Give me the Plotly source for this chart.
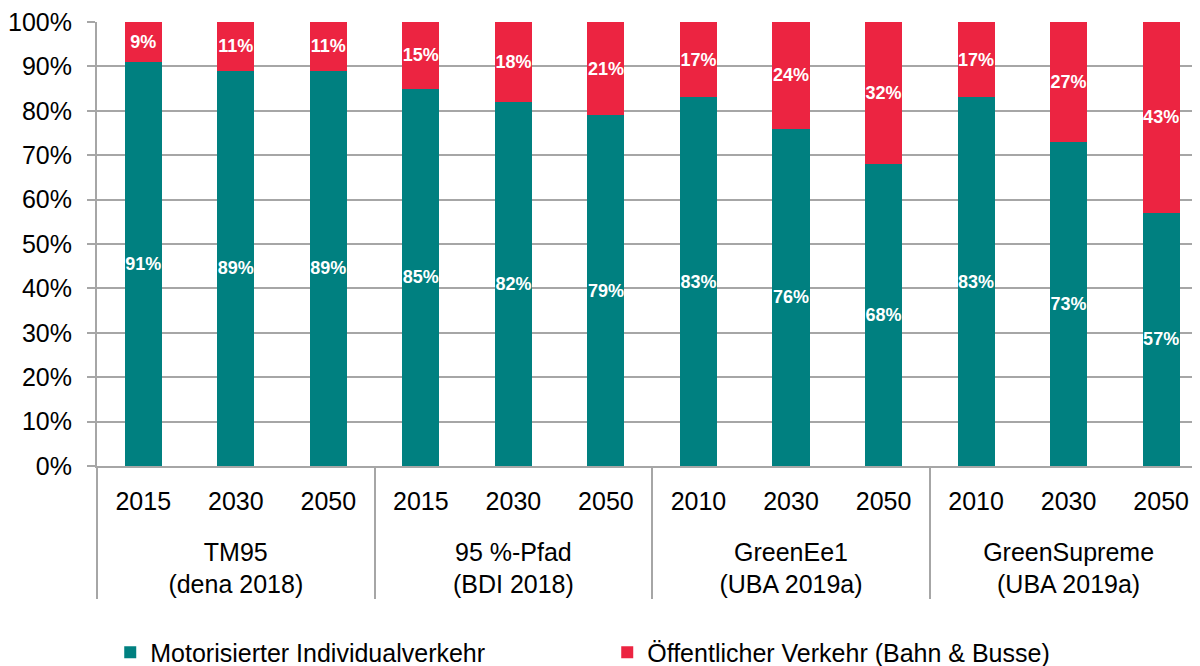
import plotly.graph_objects as go

# Scenario groups (outer level) and years (inner level)
# leading <br> gives the gap between year row and scenario names
groups = ["<br>TM95<br>(dena 2018)", "<br>95 %-Pfad<br>(BDI 2018)",
          "<br>GreenEe1<br>(UBA 2019a)", "<br>GreenSupreme<br>(UBA 2019a)"]
scenarios = [g for g in groups for _ in range(3)]
years = ["2015", "2030", "2050", "2015", "2030", "2050",
         "2010", "2030", "2050", "2010", "2030", "2050"]

# Shares in percent
miv = [91, 89, 89, 85, 82, 79, 83, 76, 68, 83, 73, 57]
oev = [9, 11, 11, 15, 18, 21, 17, 24, 32, 17, 27, 43]

TEAL = "#008080"
RED = "#EC2441"
GRID = "#A6A6A6"
FONT = "Liberation Sans, Arial, sans-serif"

fig = go.Figure()

# invisible helper so plotly sees the first year of every group in order
# (otherwise "2010" is sorted after "2050" inside the UBA groups)
fig.add_trace(go.Scatter(
    x=[groups, [years[0], years[3], years[6], years[9]]],
    y=[None] * 4, mode="markers", showlegend=False, hoverinfo="skip",
))

label_font = dict(color="white", size=18, family=FONT, weight="bold")
fig.add_trace(go.Bar(
    x=[scenarios, years], y=miv, name="Motorisierter Individualverkehr",
    marker=dict(color=TEAL, line_width=0),
    text=[f"{v}%" for v in miv], textposition="inside", insidetextanchor="middle",
    textfont=label_font, textangle=0, constraintext="none",
))
fig.add_trace(go.Bar(
    x=[scenarios, years], y=oev, name="Öffentlicher Verkehr (Bahn & Busse)",
    marker=dict(color=RED, line_width=0),
    text=[f"{v}%" for v in oev], textposition="inside", insidetextanchor="middle",
    textfont=label_font, textangle=0, constraintext="none",
))

# page body has an 8px margin, so the figure is 8px smaller than the window
fig.update_layout(
    barmode="stack",
    bargap=0.6,
    width=1192, height=658,
    margin=dict(l=89, r=0, t=14, b=200, autoexpand=False),
    plot_bgcolor="white", paper_bgcolor="white",
    font=dict(family=FONT, size=25, color="black"),
    legend=dict(
        orientation="h", traceorder="normal",
        x=0.012, xanchor="left", y=-0.42, yanchor="middle",
        font=dict(size=25), entrywidth=452, entrywidthmode="pixels",
        itemwidth=30,
    ),
    xaxis=dict(
        # last category runs slightly past the right edge, as in the original
        type="multicategory", automargin=False, range=[-0.5, 11.42],
        showline=True, linecolor=GRID, linewidth=2,
        showdividers=True, dividercolor=GRID, dividerwidth=2,
        tickfont=dict(size=25), ticklabelstandoff=12,
        ticks="",
    ),
    yaxis=dict(
        range=[0, 100], automargin=False, ticklabeloverflow="allow",
        tickvals=list(range(0, 101, 10)),
        ticktext=[f"{v}%" for v in range(0, 101, 10)],
        showgrid=True, gridcolor=GRID, gridwidth=1.5,
        showline=True, linecolor=GRID, linewidth=2,
        ticks="outside", ticklen=8, tickcolor=GRID, tickwidth=1.5,
        tickfont=dict(size=25), ticklabelstandoff=10,
        zeroline=False,
    ),
)

fig.write_html("out.html")
